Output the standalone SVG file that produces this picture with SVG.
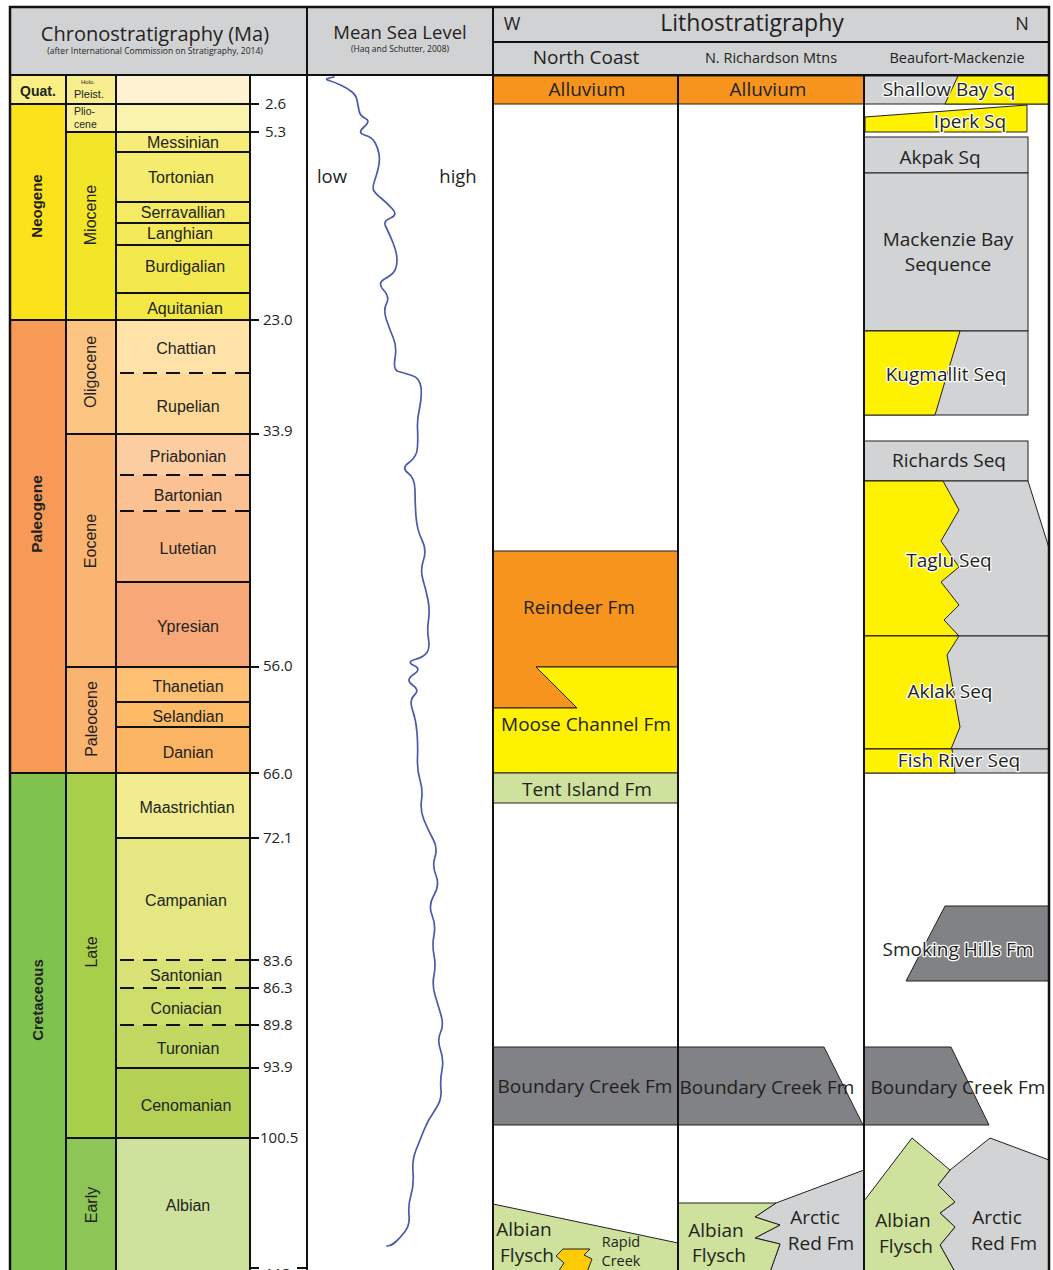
<svg xmlns="http://www.w3.org/2000/svg" width="1053" height="1270" viewBox="0 0 1053 1270">
<style>
.ln{stroke:#111;stroke-width:2;fill:none}
.dl{stroke:#111;stroke-width:2;stroke-dasharray:14 9;fill:none}
.hd{fill:#D1D2D4}
.t{font-family:"Open Sans","Noto Sans",sans-serif;fill:#231F20;text-anchor:middle}
.L{font-size:19px}
.s{font-family:"Liberation Sans",Arial,sans-serif;fill:#231F20;text-anchor:middle;font-size:16px}
.n{font-family:"Open Sans","Noto Sans",sans-serif;fill:#231F20;font-size:15px}
.b{font-family:"Liberation Sans",Arial,sans-serif;font-weight:bold;fill:#231F20;text-anchor:middle}
.h{font-family:"Open Sans","Noto Sans",sans-serif;fill:#231F20;text-anchor:middle;font-size:19px;stroke:#fff;stroke-width:2.5;paint-order:stroke;stroke-linejoin:round}
.lg{fill:#D1D3D4;stroke:#231F20;stroke-width:1}
.dg{fill:#808285;stroke:#231F20;stroke-width:1}
.ye{fill:#FFF200;stroke:#231F20;stroke-width:1}
.gr{fill:#CFE29D;stroke:#231F20;stroke-width:1}
.or{fill:#F7941D;stroke:#231F20;stroke-width:1}
</style>
<rect x="0" y="0" width="1053" height="1270" fill="#fff"/>

<g id="header">
<rect class="hd" x="10" y="7" width="1039" height="68"/>
<text class="t" x="155" y="41" font-size="20">Chronostratigraphy (Ma)</text>
<text class="t" x="155" y="54" font-size="8.5">(after International Commission on Stratigraphy, 2014)</text>
<text class="t" x="400" y="39" font-size="18.5">Mean Sea Level</text>
<text class="t" x="400" y="52" font-size="8.5">(Haq and Schutter, 2008)</text>
<text class="t" x="512" y="30" font-size="18">W</text>
<text class="t" x="752" y="31" font-size="23">Lithostratigraphy</text>
<text class="t" x="1022" y="30" font-size="18">N</text>
<text class="t L" x="586" y="64">North Coast</text>
<text class="t" x="771" y="63" font-size="14.5">N. Richardson Mtns</text>
<text class="t" x="957" y="63" font-size="14.5">Beaufort-Mackenzie</text>
</g>

<g id="chrono-fills">
<rect x="10" y="75" width="56" height="29" fill="#F9EF84"/>
<rect x="10" y="104" width="56" height="216" fill="#FBE21A"/>
<rect x="10" y="320" width="56" height="453" fill="#F79A58"/>
<rect x="10" y="773" width="56" height="497" fill="#80C24E"/>
<rect x="66" y="75" width="50" height="29" fill="#F7EE8F"/>
<rect x="66" y="104" width="50" height="28" fill="#F9EF94"/>
<rect x="66" y="132" width="50" height="188" fill="#F3E629"/>
<rect x="66" y="320" width="50" height="114" fill="#FDC582"/>
<rect x="66" y="434" width="50" height="233" fill="#FBB572"/>
<rect x="66" y="667" width="50" height="106" fill="#FBB370"/>
<rect x="66" y="773" width="50" height="365" fill="#A8CF4A"/>
<rect x="66" y="1138" width="50" height="132" fill="#8DC556"/>
<rect x="116" y="75" width="134" height="29" fill="#FEF2D2"/>
<rect x="116" y="104" width="134" height="28" fill="#FAF3AE"/>
<rect x="116" y="132" width="134" height="20" fill="#F6EC78"/>
<rect x="116" y="152" width="134" height="50" fill="#F5EB6E"/>
<rect x="116" y="202" width="134" height="21" fill="#F4EA64"/>
<rect x="116" y="223" width="134" height="22" fill="#F4E95A"/>
<rect x="116" y="245" width="134" height="48" fill="#F3E84E"/>
<rect x="116" y="293" width="134" height="27" fill="#F2E745"/>
<rect x="116" y="320" width="134" height="53" fill="#FEE2A8"/>
<rect x="116" y="373" width="134" height="61" fill="#FDD897"/>
<rect x="116" y="434" width="134" height="41" fill="#FCCDA0"/>
<rect x="116" y="475" width="134" height="36" fill="#FBC192"/>
<rect x="116" y="511" width="134" height="71" fill="#FAB584"/>
<rect x="116" y="582" width="134" height="85" fill="#F8A878"/>
<rect x="116" y="667" width="134" height="35" fill="#FDBF72"/>
<rect x="116" y="702" width="134" height="25" fill="#FCBB64"/>
<rect x="116" y="727" width="134" height="46" fill="#FBB462"/>
<rect x="116" y="773" width="134" height="65" fill="#F2EC91"/>
<rect x="116" y="838" width="134" height="122" fill="#E5E882"/>
<rect x="116" y="960" width="134" height="28" fill="#D9E276"/>
<rect x="116" y="988" width="134" height="37" fill="#CDDE6B"/>
<rect x="116" y="1025" width="134" height="43" fill="#C1D862"/>
<rect x="116" y="1068" width="134" height="70" fill="#B4D155"/>
<rect x="116" y="1138" width="134" height="132" fill="#CFE29D"/>
</g>

<g id="chrono-lines">
<path class="ln" d="M66 75V1270M116 75V1270M250 75V1270"/>
<path class="ln" d="M10 104H250M10 320H250M10 773H250M66 132H250M66 434H250M66 667H250M66 1138H250"/>
<path class="ln" d="M116 152H250M116 202H250M116 223H250M116 245H250M116 293H250M116 582H250M116 702H250M116 727H250M116 838H250M116 1068H250"/>
<path class="dl" d="M120 373H250M120 475H250M120 511H250M120 960H258M120 988H258M120 1025H258"/>
<path class="ln" d="M250 104H259M250 132H259M250 320H259M250 434H259M250 667H259M250 773H259M250 838H259M250 960H259M250 988H259M250 1025H259M250 1068H259M250 1138H259M250 1268H259M297 1268H307"/>
</g>

<g id="chrono-labels">
<text class="b" x="38" y="96" font-size="14">Quat.</text>
<text class="b" font-size="15" transform="translate(42 206) rotate(-90)">Neogene</text>
<text class="b" font-size="15.5" transform="translate(42 514) rotate(-90)">Paleogene</text>
<text class="b" font-size="15" transform="translate(43 1000) rotate(-90)">Cretaceous</text>
<text class="s" x="88" y="84" style="font-size:6px">Holo.</text>
<text class="s" x="89" y="98" style="font-size:11px">Pleist.</text>
<text class="s" x="74" y="115" style="font-size:10.5px;text-anchor:start">Plio-</text>
<text class="s" x="74" y="128" style="font-size:10.5px;text-anchor:start">cene</text>
<text class="s" transform="translate(96 215) rotate(-90)">Miocene</text>
<text class="s" transform="translate(96 372) rotate(-90)">Oligocene</text>
<text class="s" transform="translate(96 541) rotate(-90)">Eocene</text>
<text class="s" transform="translate(97 719) rotate(-90)">Paleocene</text>
<text class="s" transform="translate(97 952) rotate(-90)">Late</text>
<text class="s" transform="translate(97 1205) rotate(-90)">Early</text>
<text class="s" x="183" y="148">Messinian</text>
<text class="s" x="181" y="183">Tortonian</text>
<text class="s" x="183" y="218">Serravallian</text>
<text class="s" x="180" y="239">Langhian</text>
<text class="s" x="185" y="272">Burdigalian</text>
<text class="s" x="185" y="314">Aquitanian</text>
<text class="s" x="186" y="354">Chattian</text>
<text class="s" x="188" y="412">Rupelian</text>
<text class="s" x="188" y="462">Priabonian</text>
<text class="s" x="188" y="501">Bartonian</text>
<text class="s" x="188" y="554">Lutetian</text>
<text class="s" x="188" y="632">Ypresian</text>
<text class="s" x="188" y="692">Thanetian</text>
<text class="s" x="188" y="722">Selandian</text>
<text class="s" x="188" y="758">Danian</text>
<text class="s" x="187" y="813">Maastrichtian</text>
<text class="s" x="186" y="906">Campanian</text>
<text class="s" x="186" y="981">Santonian</text>
<text class="s" x="186" y="1014">Coniacian</text>
<text class="s" x="188" y="1054">Turonian</text>
<text class="s" x="186" y="1111">Cenomanian</text>
<text class="s" x="188" y="1211">Albian</text>
<text class="n" x="265" y="109">2.6</text>
<text class="n" x="265" y="137">5.3</text>
<text class="n" x="263" y="325">23.0</text>
<text class="n" x="263" y="436">33.9</text>
<text class="n" x="263" y="671">56.0</text>
<text class="n" x="263" y="779">66.0</text>
<text class="n" x="263" y="843">72.1</text>
<text class="n" x="263" y="966">83.6</text>
<text class="n" x="263" y="993">86.3</text>
<text class="n" x="263" y="1030">89.8</text>
<text class="n" x="263" y="1072">93.9</text>
<text class="n" x="260" y="1143">100.5</text>
<text class="n" x="265" y="1279">113</text>
</g>

<g id="sea-level">
<text class="t" x="332" y="183" font-size="18.5">low</text>
<text class="t" x="458" y="183" font-size="18.5">high</text>
<path fill="none" stroke="#4A5BA8" stroke-width="1.7" stroke-linejoin="round" stroke-linecap="round" d="M334 77 L329 78 Q324 79 329 80.5 Q334 82 340.5 85 Q347 88 351.5 91.5 Q356 95 357 100 Q358 105 359 110.5 Q360 116 365.5 118.5 Q371 121 364 127 Q357 133 364.5 135 Q372 137 375 142.5 Q378 148 379 154 Q380 160 378.5 167 Q377 174 374.5 181 Q372 188 374 191 Q376 194 381.5 198.5 Q387 203 392.5 209 Q398 215 390.5 218 Q383 221 385.5 226 Q388 231 392.5 241.5 Q397 252 397 259.5 Q397 267 394.5 271 Q392 275 384.5 279 Q377 283 383.5 290 Q390 297 386.5 303.5 Q383 310 386.5 320 Q390 330 393.5 338.5 Q397 347 395 358.5 Q393 370 398.5 371.5 Q404 373 412 375.5 Q420 378 421 387.5 Q422 397 419.5 408.5 Q417 420 417.5 428.5 Q418 437 417.5 447 Q417 457 409 462.5 Q401 468 408 473 Q415 478 415 490.5 Q415 503 416 516.5 Q417 530 422 540 Q427 550 423.5 560 Q420 570 423 580 Q426 590 428 600 Q430 610 428.5 620 Q427 630 428.5 639 Q430 648 427 652.5 Q424 657 415 659.5 Q406 662 414 665.5 Q422 669 413.5 674.5 Q405 680 412.5 685 Q420 690 414.5 695 Q409 700 412.5 710 Q416 720 417 732.5 Q418 745 417.5 757.5 Q417 770 420 780 Q423 790 421.5 800 Q420 810 424 820 Q428 830 433 839 Q438 848 435 857 Q432 866 436 875.5 Q440 885 434 895 Q428 905 432 915 Q436 925 434 935 Q432 945 434 955 Q436 965 434 975 Q432 985 435 995 Q438 1005 441 1015 Q444 1025 440.5 1032.5 Q437 1040 440.5 1050 Q444 1060 442 1070 Q440 1080 441 1090 Q442 1100 435 1110 Q428 1120 424 1130 Q420 1140 416 1150 Q412 1160 413 1172.5 Q414 1185 411 1195 Q408 1205 409 1215 Q410 1225 405 1231.5 Q400 1238 396 1241.5 Q392 1245 389.5 1245.5 L387 1246"/>
</g>

<g id="litho-north-coast">
<rect class="or" x="493" y="76" width="185" height="28"/>
<text class="t L" x="587" y="96">Alluvium</text>
<path class="or" d="M493 551H678V667H536L577 708H493Z"/>
<path class="ye" d="M536 667H678V773H493V708H577Z"/>
<rect class="gr" x="493" y="773" width="185" height="30"/>
<text class="t L" x="579" y="614">Reindeer Fm</text>
<text class="t L" x="586" y="731">Moose Channel Fm</text>
<text class="t L" x="587" y="796">Tent Island Fm</text>
<rect class="dg" x="493" y="1047" width="185" height="78"/>
<text class="t L" x="585" y="1093">Boundary Creek Fm</text>
<path class="gr" d="M493 1204L678 1243V1272H493Z"/>
<path fill="#FFCB05" stroke="#231F20" stroke-width="1" d="M563 1249H590L584 1255L592 1259L587 1272H558L564 1263L556 1256Z"/>
<text class="t L" x="524" y="1236">Albian</text>
<text class="t L" x="527" y="1262">Flysch</text>
<text class="t" x="621" y="1247" font-size="14.5">Rapid</text>
<text class="t" x="621" y="1266" font-size="14.5">Creek</text>
</g>

<g id="litho-richardson">
<rect class="or" x="678" y="76" width="186" height="28"/>
<text class="t L" x="768" y="96">Alluvium</text>
<path class="dg" d="M678 1047H824L863 1125H678Z"/>
<text class="t L" x="767" y="1094">Boundary Creek Fm</text>
<path class="lg" d="M776 1203L864 1170V1272H770L780 1244L755 1238L780 1225L755 1217Z"/>
<path class="gr" d="M678 1203H776L755 1217L780 1225L755 1238L780 1244L770 1272H678Z"/>
<text class="t L" x="716" y="1237">Albian</text>
<text class="t L" x="719" y="1262">Flysch</text>
<text class="t L" x="815" y="1224">Arctic</text>
<text class="t L" x="821" y="1250">Red Fm</text>
</g>

<g id="litho-beaufort">
<rect class="lg" x="864" y="76" width="185" height="28"/>
<path class="ye" d="M958 76H1049V104H945Z"/>
<text class="h" x="949" y="96">Shallow Bay Sq</text>
<path class="ye" d="M865 117L1027 105V132H865Z"/>
<text class="h" x="970" y="128">Iperk Sq</text>
<rect class="lg" x="864" y="137" width="164" height="36"/>
<text class="t L" x="940" y="164">Akpak Sq</text>
<rect class="lg" x="864" y="173" width="164" height="158"/>
<text class="t L" x="948" y="246">Mackenzie Bay</text>
<text class="t L" x="948" y="271">Sequence</text>
<rect class="lg" x="864" y="331" width="164" height="84"/>
<path class="ye" d="M864 331H960L935 415H864Z"/>
<text class="h" x="946" y="381">Kugmallit Seq</text>
<rect class="lg" x="864" y="441" width="164" height="40"/>
<text class="t L" x="949" y="467">Richards Seq</text>
<path class="lg" d="M864 481H1028L1049 548V636H864Z"/>
<path class="ye" d="M864 481H943L959 510L941 541L959 567L941 582L959 605L944 620L959 636H864Z"/>
<text class="h" x="949" y="567">Taglu Seq</text>
<rect class="lg" x="864" y="636" width="185" height="113"/>
<path class="ye" d="M864 636H959L947 655L960 727L951 749H864Z"/>
<text class="h" x="950" y="698">Aklak Seq</text>
<rect class="lg" x="864" y="749" width="185" height="24"/>
<path class="ye" d="M864 749H952L955 773H864Z"/>
<text class="h" x="959" y="767">Fish River Seq</text>
<path class="dg" d="M945 906H1049V981H906Z"/>
<text class="h" x="958" y="956">Smoking Hills Fm</text>
<path class="dg" d="M864 1047H951L989 1125H864Z"/>
<text class="t L" x="958" y="1094">Boundary Creek Fm</text>
<path class="lg" d="M950 1170L990 1138L1049 1160V1272H955L940 1245L955 1227L940 1213L955 1202L938 1185Z"/>
<path class="gr" d="M864 1201L912 1138L950 1170L938 1185L955 1202L940 1213L955 1227L940 1245L955 1272H864Z"/>
<text class="t L" x="903" y="1227">Albian</text>
<text class="t L" x="906" y="1253">Flysch</text>
<text class="t L" x="997" y="1224">Arctic</text>
<text class="t L" x="1004" y="1250">Red Fm</text>
</g>

<g id="frame">
<path class="ln" d="M493 42H1049"/>
<path class="ln" stroke-width="2.5" d="M10 75H1049"/>
<path class="ln" stroke-width="2.5" d="M307 7V1270M493 7V1270"/>
<path class="ln" d="M678 75V1270M864 75V1270"/>
<rect x="10" y="7" width="1039" height="1268" fill="none" stroke="#111" stroke-width="2.5"/>
</g>
</svg>
